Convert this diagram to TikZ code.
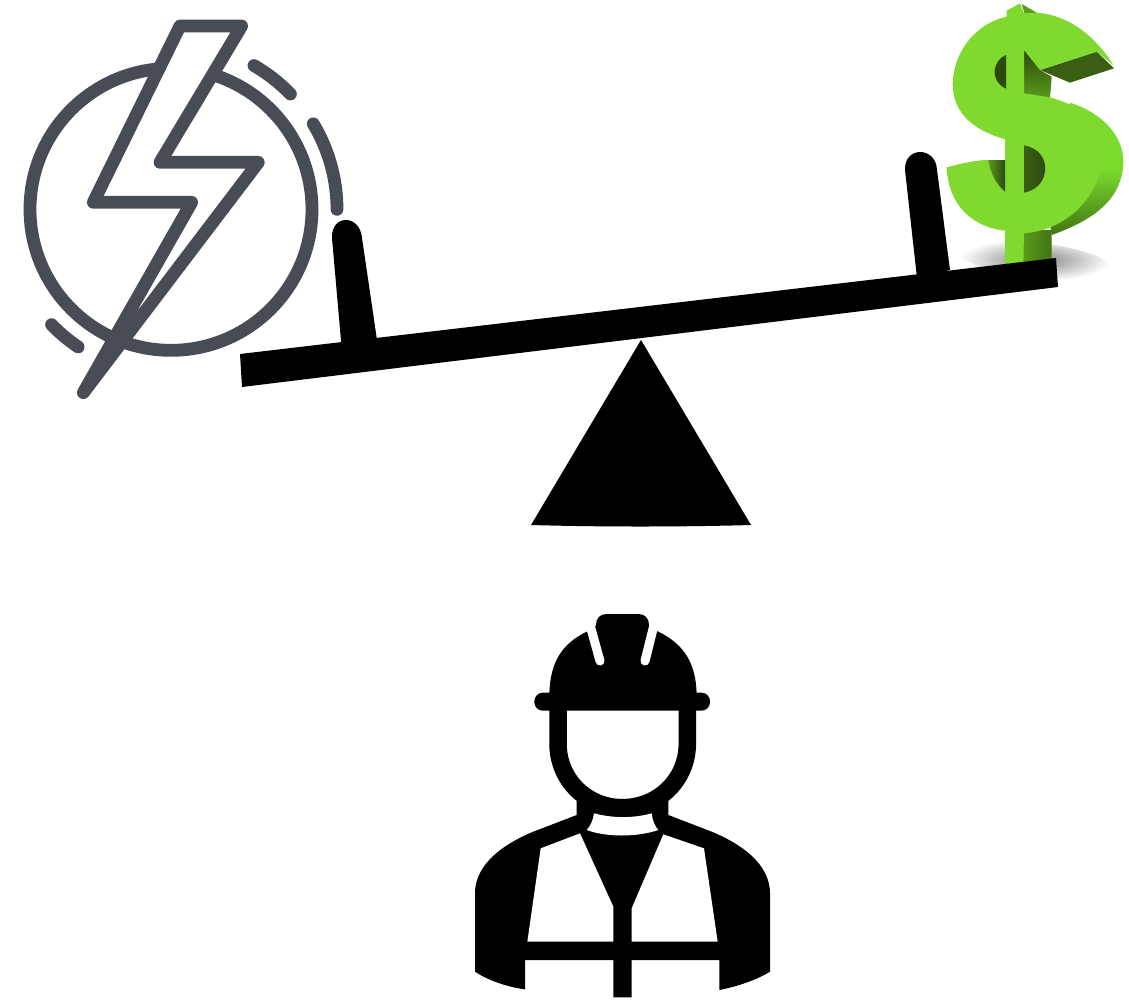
\documentclass[tikz,border=0pt]{standalone}
\definecolor{boltgray}{HTML}{474C55}
\definecolor{lightgreen}{HTML}{7FD92F}
\definecolor{midgreen}{HTML}{5A9A1C}
\definecolor{rimgreen}{HTML}{7ADB2C}
\definecolor{darkgreen}{HTML}{3A5F12}
\definecolor{deepgreen}{HTML}{2C4A0C}
\tikzset{
  boltline/.style={draw=boltgray,line width=12.8pt,line cap=round,line join=round},
  cutout/.style={fill=white,draw=none}
}
\begin{document}
\begin{tikzpicture}[x=1pt,y=1pt,yscale=-1]
\useasboundingbox (0,0) rectangle (1129,999);
\fill[white] (0,0) rectangle (1129,999);

% ---- energy icon
\begin{scope}[scale=1/3]
  \draw[boltline] (513,628) circle (423);
  \fill[white] (540,78) -- (725,78) -- (480,487) -- (775,487) -- (250,1178) -- (575,607) -- (280,607) -- cycle;
  \draw[boltline] (540,78) -- (725,78) -- (480,487) -- (775,487) -- (250,1178) -- (575,607) -- (280,607) -- cycle;
  \draw[boltline] (513,628) ++(-60:498) arc[start angle=-60,end angle=-44,radius=498];
  \draw[boltline] (513,628) ++(-31:498) arc[start angle=-31,end angle=0,radius=498];
  \draw[boltline] (513,628) ++(124:498) arc[start angle=124,end angle=136,radius=498];
\end{scope}

% ---- dollar
\begin{scope}[shift={(880,0)},scale=1/3]
  % shadow
  \shade[rotate around={6:(465,780)},inner color=black!50,outer color=white] (465,780) ellipse (228 and 52);
  % rim of the lower bowl
  \shade[top color=rimgreen,bottom color=midgreen!75!black,middle color=rimgreen]
     (570,308) .. controls (670,340) and (732,410) .. (730,490)
     .. controls (725,600) and (640,660) .. (515,705) -- (500,600) -- cycle;
  % stem side faces
  \shade[left color=midgreen,right color=midgreen!75!black] (430,690) -- (515,690) -- (515,780) -- (430,795) -- cycle;
  % top of the stem
  \fill[midgreen] (425,12) -- (470,38) -- (435,45) -- cycle;
  % shaded inner faces of the upper bowl
  \shade[top color=deepgreen,bottom color=midgreen] (432,150) .. controls (450,165) and (465,185) .. (480,210) -- (515,230) -- (510,295) -- (432,285) -- cycle;
  % top terminal underside
  \fill[darkgreen] (650,155) -- (702,205) -- (570,248) -- (480,210) -- cycle;
  % front of the S
  \fill[lightgreen]
     (380,32) -- (420,10) -- (432,40) -- (470,38)
     .. controls (560,45) and (640,100) .. (700,195) -- (650,155) -- (480,210)
     -- (432,150) -- (432,280) -- (510,292)
     .. controls (600,318) and (668,360) .. (668,450)
     .. controls (668,590) and (560,690) .. (432,700)
     -- (430,795) -- (375,795) -- (375,692)
     .. controls (270,680) and (205,610) .. (200,502)
     .. controls (245,490) and (290,480) .. (325,480)
     .. controls (330,520) and (350,555) .. (375,575) -- (375,418)
     .. controls (280,390) and (218,340) .. (218,250)
     .. controls (222,150) and (290,70) .. (380,50) -- cycle;
  % openings
  \fill[deepgreen] (378,165) .. controls (340,180) and (325,240) .. (378,266) -- cycle;
  \shade[left color=darkgreen,right color=deepgreen] (432,436) .. controls (480,445) and (500,480) .. (495,515) .. controls (490,550) and (465,572) .. (432,578) -- cycle;
  \shade[left color=midgreen,right color=deepgreen] (325,480) -- (375,480) -- (375,575) .. controls (350,555) and (330,520) .. (325,480) -- cycle;
\end{scope}

% ---- seesaw
\fill[black] (641,340) -- (751,525) .. controls (680,527) and (600,527) .. (531,525) -- cycle;
\fill[black] (240,354) -- (1056,258) -- (1058,287) -- (242,387) -- cycle;
\fill[black] (342,352) -- (332,238) .. controls (331,214) and (360,214) .. (362,238) -- (377,340) -- cycle;
\fill[black] (917,278) -- (905,170) .. controls (904,146) and (936,146) .. (937,170) -- (950,270) -- cycle;

% ---- worker
\begin{scope}[shift={(450,600)},scale=1/3]
  % body
  \fill[black] (380,570) -- (380,645) -- (250,695) .. controls (130,745) and (75,810) .. (75,880)
     -- (75,1115) .. controls (120,1145) and (180,1162) .. (225,1168) -- (225,1080) -- (490,1080)
     -- (490,1192) -- (545,1192) -- (545,1080) -- (808,1080) -- (808,1170)
     .. controls (860,1160) and (920,1140) .. (960,1115) -- (960,880)
     .. controls (960,810) and (905,745) .. (785,695) -- (655,645) -- (655,570)
     -- (585,630) -- (450,630) -- cycle;
  \fill[cutout] (272,745) -- (390,700) -- (490,920) -- (490,1025) -- (232,1025) -- cycle;
  \fill[cutout] (640,703) -- (762,745) -- (803,1025) -- (545,1025) -- (545,925) -- cycle;
  \fill[cutout] (432,640) .. controls (490,655) and (550,655) .. (605,640) .. controls (607,660) and (615,680) .. (625,690)
     .. controls (560,712) and (470,712) .. (410,690) .. controls (420,680) and (430,660) .. (432,640) -- cycle;
  % head
  \draw[black,line width=17.5pt] (324,325) -- (324,430) .. controls (324,540) and (410,623) .. (517,623)
     .. controls (625,623) and (712,540) .. (712,430) -- (712,325);
  % brim
  \fill[black,rounded corners=8.5pt] (253,278) rectangle (780,332);
  % helmet
  \fill[black] (298,285) .. controls (300,180) and (340,125) .. (425,88) -- (438,75)
     .. controls (438,55) and (450,42) .. (470,42) -- (565,42) .. controls (585,42) and (597,55) .. (597,75)
     -- (610,88) .. controls (695,125) and (738,180) .. (740,285) -- cycle;
  \draw[white,line width=9pt,line cap=round] (420,75) -- (450,183);
  \draw[white,line width=9pt,line cap=round] (612,75) -- (585,183);
  \fill[white] (405,60) -- (425,88) -- (438,75) -- (432,45) -- cycle;
  \fill[white] (630,60) -- (610,88) -- (597,75) -- (603,45) -- cycle;
\end{scope}
\end{tikzpicture}
\end{document}
